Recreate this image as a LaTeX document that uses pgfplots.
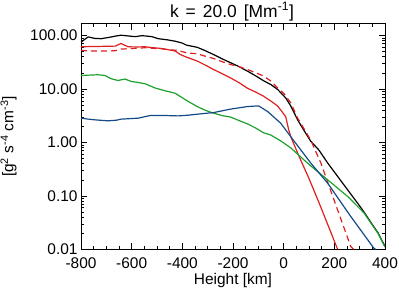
\documentclass[border=0pt]{standalone}
\usepackage{fontspec}
\setmainfont{Liberation Sans}
\usepackage{pgfplots}
\pgfplotsset{compat=1.18}
\definecolor{cred}{RGB}{222,32,32}
\definecolor{cgreen}{RGB}{30,160,45}
\definecolor{cblue}{RGB}{20,75,135}
\begin{document}
\begin{tikzpicture}
\begin{axis}[name=ax, scale only axis, width=304bp, height=225.6bp,
  xmin=-800, xmax=400, ymode=log, ymin=0.01, ymax=166,
  xtick={-800,-600,...,400}, xticklabels={-800,-600,-400,-200,0,200,400},
  minor x tick num=3,
  ytick={0.01,0.1,1,10,100}, yticklabels={0.01,0.10,1.00,10.00,100.00},
  minor ytick={0.02,0.03,0.04,0.05,0.06,0.07,0.08,0.09,0.2,0.3,0.4,0.5,0.6,0.7,0.8,0.9,2,3,4,5,6,7,8,9,20,30,40,50,60,70,80,90},
  tick align=inside, major tick length=6bp, minor tick length=3bp,
  tick style={black, line width=0.5bp},
  axis line style={line width=0.6bp},
  every tick label/.append style={font=\fontsize{15.5}{18}\selectfont},
  xticklabel style={anchor=base, yshift=-19.2bp},
  label style={font=\fontsize{15.5}{18}\selectfont},
  xlabel={Height [km]},
  xlabel style={at={(axis description cs:0.5,0)}, anchor=base, yshift=-34.7bp},
  ylabel={[g\textsuperscript{2} s\textsuperscript{-4} cm\textsuperscript{-3}]},
  ylabel style={at={(axis description cs:-0.2007,0.5)}, anchor=south},
  every axis plot/.append style={line width=1.2bp, line join=round},
]
% black
\addplot[black] coordinates {
(-800,75) (-772,94) (-745,88) (-721,87) (-690,92) (-660,98) (-642,101) (-614,98)
(-586,95) (-560,99) (-547,98) (-520,95) (-495,87) (-460,83) (-428,78) (-400,72)
(-384,66) (-341,60) (-310,52) (-277,44) (-240,36) (-210,31) (-175,26) (-143,21.5)
(-110,17.5) (-79,14.2) (-50,12) (-24,9.8) (8,6.8) (28,4.8) (55,2.64) (79,1.71)
(107,1.05) (139,0.72) (174,0.41) (238,0.16) (290,0.075) (317,0.050) (344,0.032)
(372,0.0205) (400,0.0113)
};
% red solid
\addplot[cred] coordinates {
(-800,61.4) (-765,62) (-732,62.3) (-700,62.8) (-665,63.2) (-642,70.8) (-614,61.4)
(-580,61) (-547,61.4) (-515,59) (-483,57.2) (-450,53.5) (-428,51.1) (-408,44)
(-384,39.4) (-341,33.2) (-310,28) (-277,23.1) (-240,19) (-210,16.1) (-175,13)
(-143,10.3) (-110,8.7) (-79,7.3) (-50,5.9) (-24,4.8) (-12,4.05) (8,3.04) (20,1.71)
(28,1.28) (55,0.635) (67,0.47) (99,0.216) (135,0.084) (213,0.01)
};
% red dashed
\addplot[cred, dash pattern=on 6bp off 4bp] coordinates {
(-800,52.4) (-765,51.5) (-732,51) (-700,51.3) (-665,51.7) (-642,55.6) (-600,57)
(-547,58.9) (-515,57.5) (-483,56.4) (-450,54) (-416,52.4) (-384,47.4) (-341,45.4)
(-310,41) (-277,37.1) (-240,32) (-210,28.6) (-175,26) (-143,23.1) (-110,20)
(-79,17.4) (-50,14) (-24,10.5) (0,8.3) (28,5.5) (55,2.86) (107,1.1) (147,0.41)
(194,0.097) (265,0.0112) (276,0.01)
};
% green
\addplot[cgreen] coordinates {
(-800,17.8) (-760,18.2) (-732,18.4) (-705,17.8) (-681,15.5) (-654,14.4) (-626,15.3)
(-602,13.8) (-575,13.2) (-547,12.5) (-507,10.4) (-467,9.2) (-428,8.3) (-408,7.2)
(-376,5.8) (-341,4.68) (-310,4.0) (-277,3.52) (-240,3.15) (-210,2.98) (-175,2.55)
(-143,2.22) (-110,1.85) (-79,1.51) (-52,1.38) (-12,1.07) (28,0.79) (67,0.535)
(107,0.363) (174,0.199) (253,0.097) (317,0.048) (372,0.020) (400,0.0110)
};
% blue
\addplot[cblue] coordinates {
(-800,2.84) (-770,2.72) (-745,2.64) (-693,2.53) (-660,2.6) (-642,2.72) (-574,2.84)
(-527,3.18) (-467,3.18) (-416,3.13) (-376,3.23) (-341,3.37) (-277,3.61) (-210,4.19)
(-143,4.68) (-99,4.82) (-63,3.77) (-12,2.29) (28,1.28) (107,0.41) (174,0.172)
(265,0.041) (356,0.0105) (363,0.01)
};
\end{axis}
\node[font=\fontsize{17.5}{20}\selectfont, anchor=base, inner sep=0pt] at ([xshift=-1bp,yshift=6.5bp]ax.north) {\spaceskip=7bp k = 20.0 [Mm\textsuperscript{-1}]};
\pgfresetboundingbox
\path[use as bounding box] ([xshift=-81bp,yshift=-44.7bp]ax.south west) rectangle ([xshift=14bp,yshift=23.7bp]ax.north east);
\end{tikzpicture}
\end{document}
